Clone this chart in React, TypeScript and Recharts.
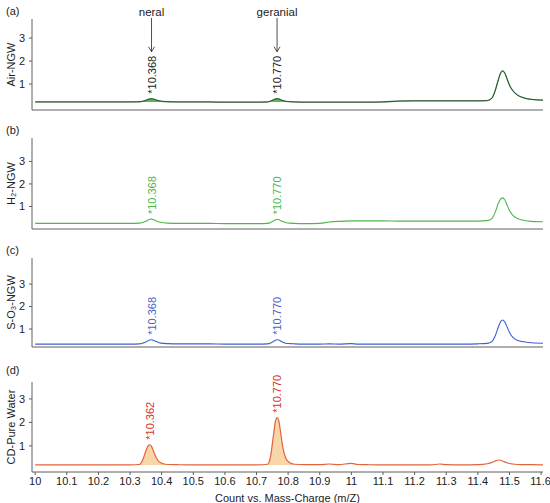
import React from "react";
import { ComposedChart, Line, Area, XAxis, YAxis, ReferenceDot } from "recharts";

// retention time grid (min)
const rt = [
  10.0, 10.05, 10.1, 10.15, 10.2, 10.25, 10.3, 10.33, 10.34, 10.35, 10.357, 10.362, 10.368, 10.375, 10.383, 10.392,
  10.405, 10.42, 10.45, 10.5, 10.55, 10.6, 10.65, 10.7, 10.735, 10.745, 10.753, 10.76, 10.765, 10.77, 10.776, 10.783,
  10.792, 10.805, 10.82, 10.85, 10.9, 10.93, 10.96, 11.0, 11.02, 11.05, 11.1, 11.15, 11.2, 11.25, 11.28, 11.3, 11.35,
  11.4, 11.43, 11.445, 11.455, 11.465, 11.472, 11.478, 11.485, 11.493, 11.5, 11.51, 11.525, 11.545, 11.57, 11.606,
];

const airNgw = [
  0.22, 0.22, 0.22, 0.22, 0.22, 0.22, 0.22, 0.23, 0.25, 0.29, 0.33, 0.35, 0.36, 0.34, 0.3, 0.27,
  0.24, 0.23, 0.22, 0.22, 0.22, 0.21, 0.21, 0.21, 0.22, 0.26, 0.31, 0.35, 0.36, 0.35, 0.32, 0.28,
  0.25, 0.23, 0.22, 0.21, 0.21, 0.21, 0.21, 0.21, 0.21, 0.21, 0.22, 0.26, 0.27, 0.27, 0.27, 0.27, 0.27,
  0.27, 0.28, 0.4, 0.72, 1.2, 1.48, 1.57, 1.48, 1.2, 0.95, 0.72, 0.52, 0.4, 0.33, 0.3,
];

const h2Ngw = [
  0.25, 0.25, 0.25, 0.25, 0.25, 0.25, 0.25, 0.26, 0.29, 0.34, 0.4, 0.43, 0.44, 0.41, 0.36, 0.31,
  0.28, 0.26, 0.25, 0.25, 0.25, 0.24, 0.24, 0.24, 0.25, 0.29, 0.35, 0.41, 0.43, 0.42, 0.38, 0.33,
  0.29, 0.26, 0.25, 0.24, 0.25, 0.31, 0.34, 0.36, 0.36, 0.36, 0.36, 0.35, 0.35, 0.35, 0.35, 0.35, 0.35,
  0.35, 0.37, 0.47, 0.75, 1.15, 1.33, 1.38, 1.3, 1.05, 0.82, 0.62, 0.47, 0.39, 0.34, 0.32,
];

const so3Ngw = [
  0.33, 0.33, 0.33, 0.33, 0.33, 0.33, 0.33, 0.34, 0.37, 0.42, 0.48, 0.51, 0.52, 0.49, 0.44, 0.39,
  0.36, 0.35, 0.34, 0.34, 0.34, 0.33, 0.33, 0.33, 0.34, 0.38, 0.44, 0.5, 0.52, 0.51, 0.47, 0.41,
  0.37, 0.35, 0.34, 0.33, 0.33, 0.34, 0.33, 0.35, 0.33, 0.33, 0.33, 0.33, 0.33, 0.33, 0.33, 0.33, 0.33,
  0.34, 0.36, 0.45, 0.7, 1.1, 1.33, 1.4, 1.32, 1.08, 0.85, 0.64, 0.5, 0.43, 0.39, 0.37,
];

const cdWater = [
  0.19, 0.19, 0.19, 0.19, 0.19, 0.19, 0.19, 0.21, 0.4, 0.78, 1.0, 1.05, 0.98, 0.75, 0.5, 0.33,
  0.24, 0.21, 0.2, 0.19, 0.19, 0.19, 0.19, 0.19, 0.22, 0.6, 1.4, 2.05, 2.2, 2.1, 1.6, 0.95,
  0.5, 0.28, 0.22, 0.2, 0.2, 0.23, 0.2, 0.26, 0.21, 0.2, 0.19, 0.19, 0.19, 0.19, 0.23, 0.2, 0.19,
  0.2, 0.24, 0.3, 0.36, 0.4, 0.39, 0.36, 0.32, 0.28, 0.25, 0.23, 0.21, 0.2, 0.2, 0.19,
];

const xTicks = [10, 10.1, 10.2, 10.3, 10.4, 10.5, 10.6, 10.7, 10.8, 10.9, 11, 11.1, 11.2, 11.3, 11.4, 11.5, 11.6];
const yTicks = [1, 2, 3];

// integrated peak windows (shaded)
const peakWindows = [
  [10.33, 10.42],
  [10.735, 10.82],
];

const ngwPeaks = [
  { rt: 10.368, text: "*10.368", name: "neral" },
  { rt: 10.765, text: "*10.770", name: "geranial" },
];
const cdPeaks = [
  { rt: 10.362, text: "*10.362", name: "" },
  { rt: 10.765, text: "*10.770", name: "" },
];

const FONT = '"Liberation Sans", Arial, sans-serif';
const AXIS = "#5e5e5e";

const peakLabel = (text: string, color: string, name?: string) => (props: any) => {
  const vb = props.viewBox;
  const cx = vb.x + vb.width / 2;
  const cy = vb.y + vb.height / 2 - 5;
  const tip = cy - 42;
  return (
    <g>
      <text
        x={cx}
        y={cy}
        transform={`rotate(-90 ${cx} ${cy})`}
        fill={color}
        fontSize={11}
        textAnchor="start"
        dominantBaseline="central"
      >
        {text}
      </text>
      {name ? (
        <g>
          <line x1={cx} y1={18} x2={cx} y2={tip} stroke="#222" strokeWidth={0.8} />
          <path d={`M${cx - 3},${tip - 5} L${cx},${tip} L${cx + 3},${tip - 5}`} stroke="#222" strokeWidth={0.8} fill="none" />
          <text x={cx} y={12} fill="#222" fontSize={11.5} textAnchor="middle" dominantBaseline="central">
            {name}
          </text>
        </g>
      ) : null}
    </g>
  );
};

type PanelProps = {
  top: number;
  plotHeight: number;
  values: number[];
  domain: [number, number];
  strokes: { color: string; width: number }[];
  fill?: string;
  base: number;
  title: string;
  labelColor: string;
  peaks: { rt: number; text: string; name: string }[];
  arrows?: boolean;
  withAxis?: boolean;
};

const Panel = ({ top, plotHeight, values, domain, strokes, fill, base, title, labelColor, peaks, arrows, withAxis }: PanelProps) => {
  const rows = rt.map((x, i) => ({
    rt: x,
    y: values[i],
    peak: peakWindows.some(([a, b]) => x >= a && x <= b) ? values[i] : null,
  }));
  const axisH = withAxis ? 31 : 1;
  const height = 19 + plotHeight + axisH;

  return (
    <div style={{ position: "absolute", left: 0, top }}>
      <ComposedChart width={550} height={height} data={rows} margin={{ top: 19, right: 7, left: 0, bottom: 0 }}>
        <XAxis
          type="number"
          dataKey="rt"
          domain={[9.99, 11.606]}
          ticks={xTicks}
          allowDataOverflow
          height={axisH}
          axisLine={{ stroke: AXIS }}
          tick={withAxis ? { fontSize: 11, fill: "#222" } : false}
          tickLine={withAxis ? { stroke: AXIS } : false}
          tickSize={3}
          tickFormatter={(v) => String(v)}
          label={
            withAxis
              ? { value: "Count vs. Mass-Charge (m/Z)", position: "insideBottom", offset: 1, fontSize: 11, fill: "#222" }
              : undefined
          }
        />
        <YAxis
          width={32}
          domain={domain}
          ticks={yTicks}
          allowDataOverflow
          axisLine={{ stroke: AXIS }}
          tickLine={{ stroke: AXIS }}
          tickSize={3}
          tickMargin={4}
          tick={{ fontSize: 11, fill: "#222" }}
          label={{
            value: title,
            angle: -90,
            position: "insideLeft",
            offset: 11,
            fontSize: 11,
            fill: "#222",
            style: { textAnchor: "middle" },
          }}
        />
        {fill ? (
          <Area
            type="monotone"
            dataKey="peak"
            baseValue={base}
            stroke="none"
            fill={fill}
            fillOpacity={0.9}
            isAnimationActive={false}
          />
        ) : null}
        {strokes.map((s, i) => (
          <Line
            key={i}
            type="monotone"
            dataKey="y"
            stroke={s.color}
            strokeWidth={s.width}
            dot={false}
            isAnimationActive={false}
          />
        ))}
        {peaks.map((p) => (
          <ReferenceDot
            key={p.text + p.rt}
            x={p.rt}
            y={values[rt.indexOf(p.rt)]}
            r={2}
            fill="none"
            stroke="none"
            label={peakLabel(p.text, labelColor, arrows ? p.name : undefined)}
          />
        ))}
      </ComposedChart>
    </div>
  );
};

const tag = (text: string, top: number) => (
  <div style={{ position: "absolute", left: 6, top, fontSize: 11, lineHeight: "12px", color: "#222" }}>{text}</div>
);

export default function App() {
  return (
    <div style={{ position: "absolute", left: 0, top: 0, width: 550, height: 503, background: "#fff", fontFamily: FONT }}>
      {tag("(a)", 5)}
      {tag("(b)", 124)}
      {tag("(c)", 244)}
      {tag("(d)", 364)}
      <Panel
        top={0}
        plotHeight={91}
        values={airNgw}
        domain={[-0.13, 3.83]}
        strokes={[
          { color: "#4caf50", width: 1.3 },
          { color: "#333333", width: 0.8 },
        ]}
        fill="#47ad4e"
        base={0.22}
        title="Air-NGW"
        labelColor="#222"
        peaks={ngwPeaks}
        arrows
      />
      <Panel
        top={119}
        plotHeight={91}
        values={h2Ngw}
        domain={[0, 4.04]}
        strokes={[{ color: "#4cb84c", width: 1.1 }]}
        base={0.25}
        title="H₂-NGW"
        labelColor="#4cb84c"
        peaks={ngwPeaks}
      />
      <Panel
        top={239}
        plotHeight={89}
        values={so3Ngw}
        domain={[0.2, 4.16]}
        strokes={[{ color: "#3d5fd1", width: 1.1 }]}
        base={0.33}
        title="S-O₃-NGW"
        labelColor="#4a62c9"
        peaks={ngwPeaks}
      />
      <Panel
        top={363}
        plotHeight={90}
        values={cdWater}
        domain={[-0.11, 3.72]}
        strokes={[{ color: "#e2643a", width: 1.2 }]}
        fill="#f8d0a0"
        base={0.19}
        title="CD-Pure Water"
        labelColor="#d8332a"
        peaks={cdPeaks}
        withAxis
      />
    </div>
  );
}
